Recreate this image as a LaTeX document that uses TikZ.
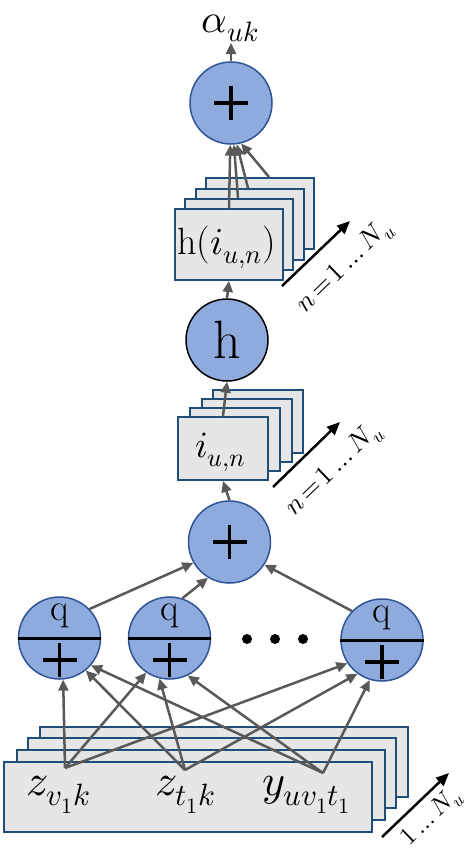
\documentclass[tikz,border=0pt]{standalone}
\usepackage{fontspec}
\usepackage{unicode-math}
\setmathfont{Latin Modern Math}
\usetikzlibrary{arrows.meta}
\definecolor{cfill}{HTML}{8FAADC}
\definecolor{cborder}{HTML}{2F5597}
\definecolor{bfill}{HTML}{E7E6E6}
\definecolor{bborder}{HTML}{1F4E79}
\definecolor{arr}{HTML}{595959}
\tikzset{
  opc/.style={circle, draw=cborder, fill=cfill, line width=1.5pt, minimum size=82pt, inner sep=0pt},
  hcirc/.style={opc, draw=black},
  card/.style={draw=bborder, fill=bfill, line width=2pt, inner sep=0pt, anchor=north west},
  topcard/.style={card, minimum width=108pt, minimum height=71pt},
  midcard/.style={card, minimum width=90pt, minimum height=63pt},
  botcard/.style={card, minimum width=368pt, minimum height=70pt},
  conn/.style={draw=arr, line width=2.5pt, -{Triangle[length=11pt,width=10pt]}},
  platearrow/.style={draw=black, line width=2.5pt, -{Triangle[length=13pt,width=11pt]}},
  plusline/.style={line width=3.8pt, black},
  bar/.style={line width=3pt, black},
  txt/.style={inner sep=0pt, anchor=base west},
  lbl/.style={inner sep=0pt, rotate=44, font=\fontsize{27}{30}\selectfont},
  dot/.style={circle, fill=black, minimum size=10pt, inner sep=0pt}
}
\begin{document}
\begin{tikzpicture}[x=1pt,y=-1pt]
\useasboundingbox (0,0) rectangle (471,854);
% bottom cards
\node[botcard] (b4) at (39,726) {};
\node[botcard] (b3) at (27,737) {};
\node[botcard] (b2) at (16,749) {};
\node[botcard] (b1) at (3,761) {};
\node[txt, font=\fontsize{44}{48}\selectfont] (tzv) at (26,795) {$z_{v_1k}$};
\node[txt, font=\fontsize{44}{48}\selectfont] (tzt) at (155,795) {$z_{t_1k}$};
\node[txt, font=\fontsize{44}{48}\selectfont] (tyv) at (262,795) {$y_{uv_1t_1}$};
\coordinate (szv) at (65,768);
\coordinate (szt) at (185,770);
\coordinate (syv) at (323,773);
% middle cards
\node[midcard] (m4) at (212,389) {};
\node[midcard] (m3) at (201,398) {};
\node[midcard] (m2) at (189,407) {};
\node[midcard] (m1) at (177,416) {};
\node[txt, font=\fontsize{37}{40}\selectfont] (tiu) at (195,457) {$i_{u,n}$};
% top cards
\node[topcard] (h4) at (205,177) {};
\node[topcard] (h3) at (195,188) {};
\node[topcard] (h2) at (184,198) {};
\node[topcard] (h1) at (174,208) {};
\node[txt, font=\fontsize{38}{42}\selectfont] (thi) at (177,254) {h($i_{u,n}$)};
\coordinate (sh1) at (229,208);
\coordinate (sh2) at (238,198);
\coordinate (sh3) at (248,188);
\coordinate (sh4) at (269,177);
% circles
\node[opc] (top) at (231,103) {};
\node[hcirc, font=\fontsize{54}{60}\selectfont] (hh) at (227,340) {h};
\node[opc] (mid) at (229.5,542) {};
\node[opc] (c1) at (59.5,638) {};
\node[opc] (c2) at (169.5,638) {};
\node[opc] (c3) at (382,640) {};
% plus signs
\draw[plusline] (top.center) ++(-17,0) -- ++(34,0) (top.center) ++(0,-17) -- ++(0,34);
\draw[plusline] (mid.center) ++(-17,0) -- ++(34,0) (mid.center) ++(0,-17) -- ++(0,34);
\foreach \c in {c1,c2,c3}{
  \draw[bar] (\c.180) -- (\c.0);
  \draw[plusline] (\c.center) ++(-17,22) -- ++(34,0) (\c.center) ++(0,5) -- ++(0,34);
  \node[inner sep=0pt, anchor=base, font=\fontsize{38}{40}\selectfont] at ([yshift=18pt]\c.center) {q};
}
% dots
\node[dot] (d1) at (247,639) {};
\node[dot] (d2) at (275,639) {};
\node[dot] (d3) at (303,639) {};
% output label
\node[inner sep=0pt, anchor=base, font=\fontsize{40}{44}\selectfont] (alpha) at (230,32) {$\alpha_{uk}$};
\coordinate (aend) at (231,43);
% connectors
\draw[conn] (top.north) -- (aend);
\draw[conn] (sh1) -- (top.-91);
\draw[conn] (sh2) -- (top.-86);
\draw[conn] (sh3) -- (top.-82);
\draw[conn] (sh4) -- (top.-76);
\draw[conn] (hh.north) -- (h1.south);
\draw[conn] (m1.north) -- (hh.south);
\draw[conn] (mid.north) -- (m1.south);
\draw[conn] (c1.44) -- (mid.-150);
\draw[conn] (c2.72) -- (mid.-121);
\draw[conn] (c3.136) -- (mid.-33);
\draw[conn] (szv) -- (c1.-85);
\draw[conn] (szv) -- (c2.-124);
\draw[conn] (szv) -- (c3.-146);
\draw[conn] (szt) -- (c1.-51);
\draw[conn] (szt) -- (c2.-104);
\draw[conn] (szt) -- (c3.-126);
\draw[conn] (syv) -- (c1.-41);
\draw[conn] (syv) -- (c2.-64);
\draw[conn] (syv) -- (c3.-107);
% plate arrows and labels
\coordinate (pa1) at (282,286); \coordinate (pb1) at (350,221);
\coordinate (pa2) at (273,487); \coordinate (pb2) at (340,422);
\coordinate (pa3) at (382,837); \coordinate (pb3) at (449,773);
\draw[platearrow] (pa1) -- (pb1);
\draw[platearrow] (pa2) -- (pb2);
\draw[platearrow] (pa3) -- (pb3);
\node[lbl] (l1) at (345,267) {$n\mkern2mu{=}\mkern2mu1\ldots N_u$};
\node[lbl] (l2) at (334,470) {$n\mkern2mu{=}\mkern2mu1\ldots N_u$};
\node[lbl, font=\fontsize{25}{28}\selectfont] (l3) at (432,818) {$1\ldots N_u$};
\end{tikzpicture}
\end{document}
